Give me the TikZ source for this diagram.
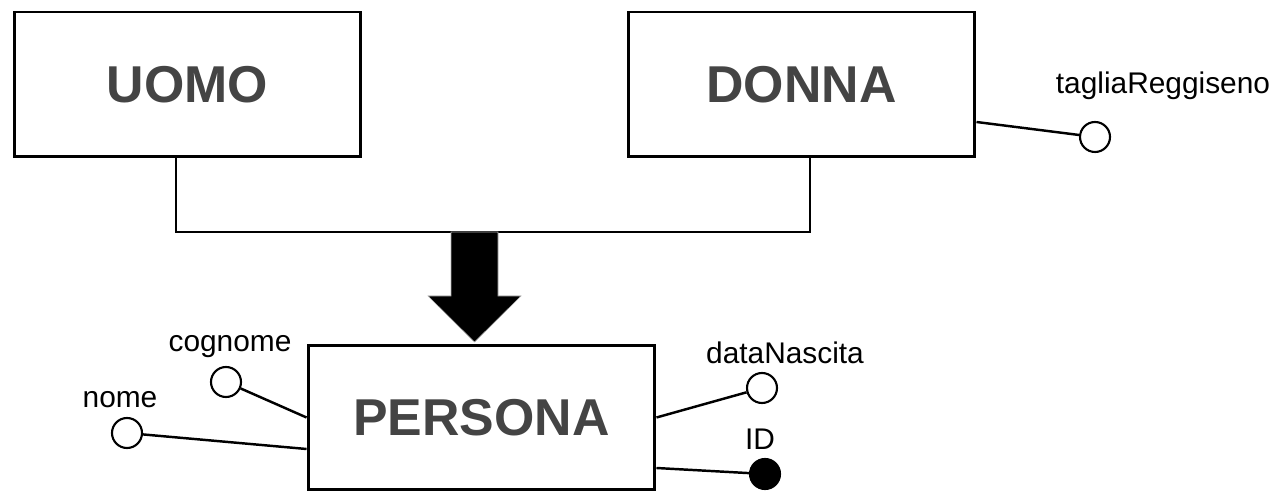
\documentclass[tikz,border=0pt]{standalone}
\usepackage{fontspec}
\setmainfont{Liberation Sans}
\usetikzlibrary{calc}
\definecolor{ttl}{HTML}{444444}
\tikzset{
  ent/.style={draw=black, line width=1.7pt, minimum width=6.94cm, minimum height=2.9cm,
    inner sep=0pt, font=\fontsize{29.5}{30}\selectfont\bfseries, text=ttl},
  attr/.style={circle, draw=black, line width=1.2pt, minimum size=0.6cm, inner sep=0pt, fill=white},
  keyattr/.style={attr, fill=black},
  alabel/.style={font=\fontsize{17}{18}\selectfont, anchor=base, inner sep=0pt},
  link/.style={line width=1.4pt},
}
\begin{document}
\begin{tikzpicture}[x=0.02cm, y=-0.02cm]
\useasboundingbox (0,0) rectangle (1280,502);
\node[ent] (uomo) at (187.5,84.5) {UOMO};
\node[ent] (donna) at (801.5,84.5) {DONNA};
\node[ent] (persona) at (481.5,417.5) {PERSONA};

% generalisation connector
\coordinate (j) at (474.5,232);
\draw[link] ($(uomo.south)+(-11.5,0)$) |- (j) -| ($(donna.south)+(8.5,0)$);
% big arrow
\fill[black, draw=gray!60, line width=0.3pt]
  ($(j)+(-23.5,0)$) -- ($(j)+(23.5,0)$) -- ($(j)+(23.5,64)$) -- ($(j)+(46.5,64)$)
  -- ($(j)+(0,110)$) -- ($(j)+(-46.5,64)$) -- ($(j)+(-23.5,64)$) -- cycle;

% attributes
\node[attr] (cognome) at (226,382) {};
\node[alabel] (lcognome) at (230,352) {cognome};
\node[attr] (nome) at (127,433) {};
\node[alabel] (lnome) at (120,408) {nome};
\node[attr] (data) at (762,388) {};
\node[alabel] (ldata) at (785,364) {dataNascita};
\node[keyattr] (id) at (765,474) {};
\node[alabel] (lid) at (760,450) {ID};
\node[attr] (taglia) at (1095,137) {};
\node[alabel] (ltaglia) at (1163,94) {tagliaReggiseno};

\draw[link] (persona.west) -- (cognome);
\draw[link] ($(persona.west)+(0,31.5)$) -- (nome);
\draw[link] (persona.east) -- (data);
\draw[link] ($(persona.east)+(0,50.5)$) -- (id);
\draw[link] ($(donna.east)+(0,37.5)$) -- (taglia);
\end{tikzpicture}
\end{document}
